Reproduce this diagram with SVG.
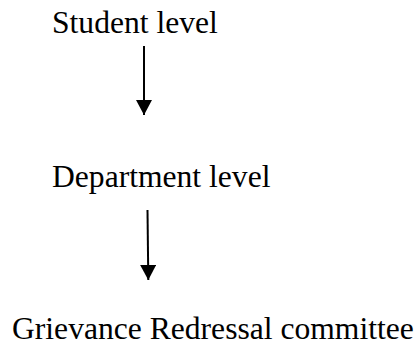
<svg xmlns="http://www.w3.org/2000/svg" width="419" height="343" viewBox="0 0 419 343">
<style>
.t{font-family:"Liberation Serif","Times New Roman",serif;font-size:31.6px;fill:#000}
.c{stroke:#000;stroke-width:2;fill:none}
</style>
<defs>
<marker id="ah" markerUnits="userSpaceOnUse" markerWidth="16" markerHeight="18" refX="15" refY="8" orient="auto">
<path d="M0,0 L15,8 L0,16 Z" fill="#000"/>
</marker>
</defs>
<rect width="419" height="343" fill="#fff"/>
<g id="student"><text class="t" x="52" y="33">Student level</text></g>
<g id="department"><text class="t" x="52" y="187">Department level</text></g>
<g id="grievance"><text class="t" x="12" y="339">Grievance Redressal committee</text></g>
<g id="connectors">
<line class="c" x1="144" y1="46" x2="144" y2="115" marker-end="url(#ah)"/>
<line class="c" x1="147.5" y1="210" x2="148.3" y2="280" marker-end="url(#ah)"/>
</g>
</svg>
